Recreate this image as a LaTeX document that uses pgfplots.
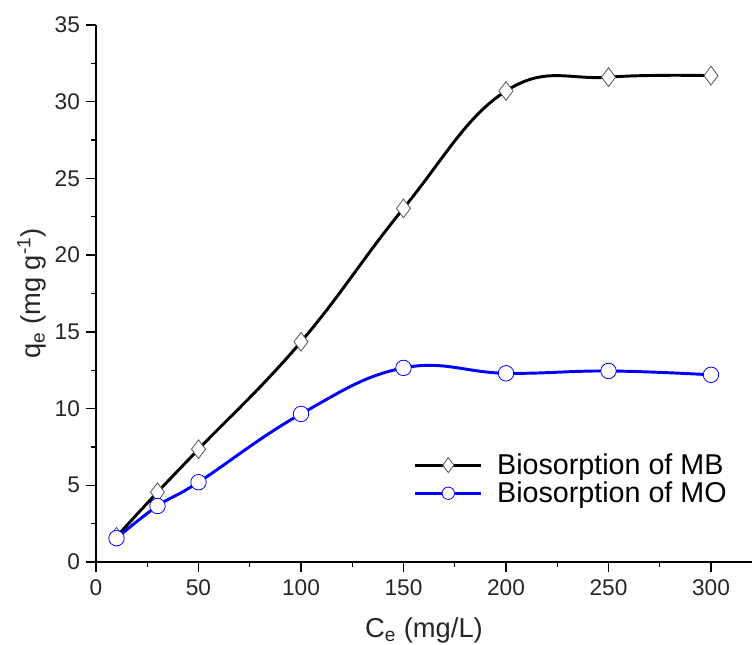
\documentclass[border=0pt]{standalone}
\usepackage{fontspec}
\setmainfont{Liberation Sans}
\usepackage{pgfplots}
\pgfplotsset{compat=1.18}
\definecolor{txt}{HTML}{262626}
\definecolor{mbk}{HTML}{555555}
\begin{document}
\begin{tikzpicture}
\begin{axis}[
  scale only axis,
  width=492pt, height=402.75pt,
  at={(0,0)}, anchor=south west,
  xmin=0, xmax=320, ymin=0, ymax=35,
  axis lines=left,
  axis line style={line width=1pt, -},
  xtick={0,50,...,300}, ytick={0,5,...,35},
  minor x tick num=1, minor y tick num=1,
  tick align=outside,
  major tick length=7.5pt, minor tick length=4pt,
  tick style={line width=1pt, black},
  /pgf/number format/assume math mode=true,
  tick label style={font=\fontsize{17}{20}\selectfont, text=txt},
  xticklabel style={yshift=-2pt},
  yticklabel style={xshift=-1pt},
  xlabel={C\textsubscript{e} (mg/L)},
  ylabel={q\textsubscript{e} (mg g\textsuperscript{-1})},
  label style={font=\fontsize{20.5}{24}\selectfont, text=txt},
  xlabel style={at={(axis description cs:0.5,-0.127)}, anchor=center},
  ylabel style={at={(axis description cs:-0.098,0.5)}, anchor=center},
  legend style={draw=none, fill=none, at={(0.478,0.212)}, anchor=north west,
    font=\fontsize{21.5}{25}\selectfont, row sep=0pt, cells={anchor=west}},
  legend image code/.code={
    \draw[#1, mark repeat=2, mark phase=2, every mark/.append style={scale=0.8}] plot coordinates {(0cm,0cm) (0.87cm,0cm) (1.74cm,0cm)};
    \path (2.05cm,0cm);},
]
\addplot[black, line width=2.2pt, smooth, tension=0.7,
  mark=diamond*, mark size=7pt, mark options={fill=white, draw=mbk, line width=0.6pt}]
  coordinates {(10,1.65) (30,4.55) (50,7.35) (100,14.35) (150,23.05) (200,30.7) (250,31.6) (300,31.7)};
\addlegendentry{Biosorption of MB}
\addplot[blue, line width=2.2pt, smooth, tension=0.7,
  mark=*, mark size=5.8pt, mark options={fill=white, draw=blue, line width=0.6pt}]
  coordinates {(10,1.55) (30,3.65) (50,5.2) (100,9.65) (150,12.65) (200,12.3) (250,12.45) (300,12.2)};
\addlegendentry{Biosorption of MO}
\end{axis}
\pgfresetboundingbox
\path (-72pt,-62.25pt) rectangle (492pt,421.5pt);
\end{tikzpicture}
\end{document}
